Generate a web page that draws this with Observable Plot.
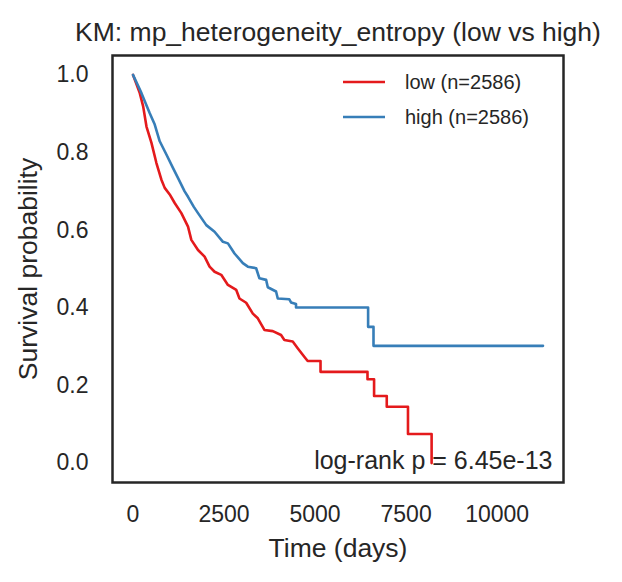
<!DOCTYPE html>
<html>
<head>
<meta charset="utf-8">
<script src="https://cdn.jsdelivr.net/npm/d3@7"></script>
<script src="https://cdn.jsdelivr.net/npm/@observablehq/plot@0.6"></script>
<style>
  html, body { margin: 0; padding: 0; background: #fff; }
  #chart svg { display: block; }
</style>
</head>
<body>
<div id="chart"></div>
<script>
// Kaplan–Meier curve vertices (time in days, survival probability)
const lowTime = [0, 186, 279, 370, 507, 643, 780, 871, 1008, 1145, 1328, 1511, 1602, 1785, 1966, 2103, 2240, 2423, 2607, 2836, 2924, 3108, 3291, 3428, 3609, 3839, 4066, 4157, 4387, 4523, 4704, 4797, 5150, 5150, 6440, 6440, 6621, 6621, 6969, 6969, 7552, 7552, 8201, 8201];
const lowSurv = [1.0, 0.953, 0.919, 0.867, 0.825, 0.773, 0.730, 0.709, 0.692, 0.670, 0.644, 0.609, 0.575, 0.549, 0.532, 0.506, 0.493, 0.485, 0.459, 0.446, 0.424, 0.413, 0.385, 0.373, 0.343, 0.340, 0.330, 0.317, 0.313, 0.296, 0.274, 0.263, 0.263, 0.235, 0.235, 0.216, 0.216, 0.173, 0.173, 0.145, 0.145, 0.075, 0.075, 0.0];

const highTime = [0, 233, 460, 597, 734, 917, 1100, 1238, 1418, 1511, 1670, 1785, 2013, 2240, 2470, 2607, 2788, 3017, 3154, 3382, 3472, 3656, 3702, 3929, 3976, 4293, 4340, 4477, 4477, 6457, 6457, 6605, 6605, 11260];
const highSurv = [1.0, 0.953, 0.901, 0.872, 0.829, 0.795, 0.760, 0.734, 0.700, 0.686, 0.660, 0.644, 0.613, 0.596, 0.570, 0.566, 0.540, 0.515, 0.506, 0.502, 0.476, 0.472, 0.453, 0.442, 0.424, 0.422, 0.414, 0.410, 0.401, 0.401, 0.351, 0.351, 0.302, 0.302];

const groups = ["low", "high"];
const groupN = [2586, 2586];
const groupColors = ["#e41a1c", "#377eb8"];

const xTicks = [0, 2500, 5000, 7500, 10000];
const yTicks = [0.0, 0.2, 0.4, 0.6, 0.8, 1.0];

const titleText = "KM: mp_heterogeneity_entropy (low vs high)";
const xLabel = "Time (days)";
const yLabel = "Survival probability";
const pValue = "6.45e-13";

const rows = [
  ...lowTime.map((t, i) => ({group: "low", time: t, surv: lowSurv[i]})),
  ...highTime.map((t, i) => ({group: "high", time: t, surv: highSurv[i]}))
];

const maxT = d3.max(rows, d => d.time);
const pad = maxT * 0.05;
const ink = "#262626";
const font = "'Liberation Sans', Arial, Helvetica, sans-serif";

const chart = Plot.plot({
  width: 622,
  height: 582,
  marginLeft: 112,
  marginRight: 59,
  marginTop: 55,
  marginBottom: 100,
  style: {fontFamily: font, fontSize: "23px", color: ink, background: "#fff"},
  x: {domain: [-pad, maxT + pad], ticks: xTicks, tickFormat: d => String(d), tickSize: 0, tickPadding: 23, label: null},
  y: {domain: [-0.05, 1.05], ticks: yTicks, tickFormat: d3.format(".1f"), tickSize: 0, tickPadding: 24, label: null},
  color: {domain: groups, range: groupColors},
  marks: [
    Plot.line(rows, {x: "time", y: "surv", z: "group", stroke: "group", strokeWidth: 2.6, curve: "linear"}),
    Plot.frame({stroke: ink, strokeWidth: 2.5}),
    Plot.text([titleText], {frameAnchor: "top", dy: -23, fontSize: 26.5, fill: ink, lineAnchor: "middle"}),
    Plot.text([xLabel], {frameAnchor: "bottom", dy: 66, fontSize: 26.5, fill: ink, lineAnchor: "middle"}),
    Plot.text([yLabel], {frameAnchor: "left", dx: -84, rotate: -90, textAnchor: "middle", fontSize: 26.5, fill: ink, lineAnchor: "middle"}),
    Plot.text([`log-rank p = ${pValue}`], {frameAnchor: "bottom-right", dx: -11, dy: -22, textAnchor: "end", fontSize: 25, fill: ink, lineAnchor: "middle"})
  ]
});

// Legend in the upper right corner of the plotting frame
const svg = d3.select(chart);
const frameRight = 622 - 59;
const frameTop = 55;
const legend = svg.append("g")
  .attr("font-family", font)
  .attr("font-size", 20)
  .attr("text-anchor", "start")
  .attr("fill", ink);
groups.forEach((g, i) => {
  const yy = frameTop + 27 + i * 35;
  legend.append("line")
    .attr("x1", frameRight - 220).attr("x2", frameRight - 178)
    .attr("y1", yy).attr("y2", yy)
    .attr("stroke", groupColors[i]).attr("stroke-width", 2.6);
  legend.append("text")
    .attr("x", frameRight - 158).attr("y", yy).attr("dy", "0.35em")
    .text(`${g} (n=${groupN[i]})`);
});

document.getElementById("chart").appendChild(chart);
</script>
</body>
</html>
